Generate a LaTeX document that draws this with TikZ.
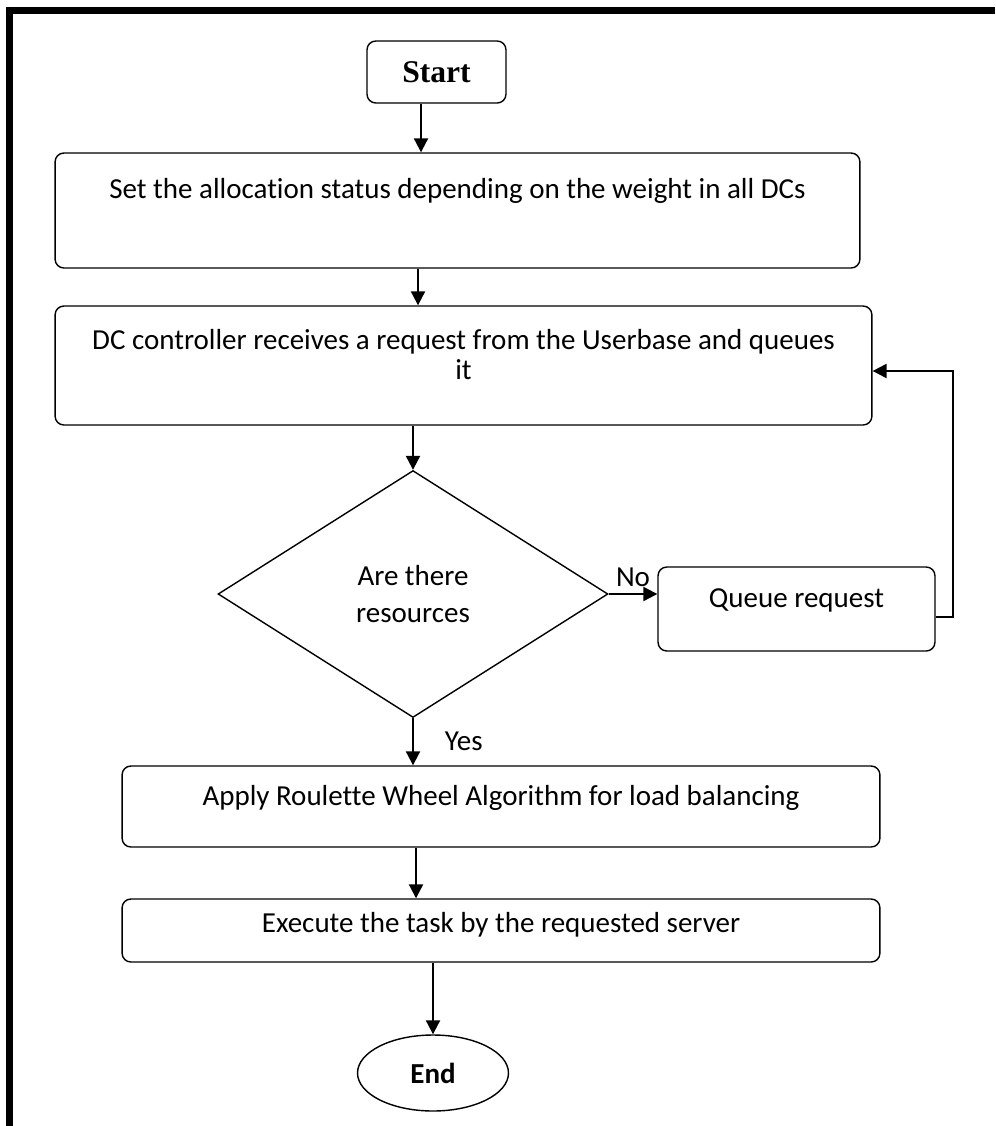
\documentclass[tikz,border=0pt]{standalone}
\usepackage{fontspec}
\setmainfont{Carlito}[Ligatures=NoCommon]
\newfontfamily\startfont{Liberation Serif}
\usetikzlibrary{arrows.meta, positioning, shapes.geometric}

\begin{document}
\begin{tikzpicture}[x=0.02cm, y=-0.02cm,
    font=\fontsize{16.5}{20}\selectfont,
    box/.style={draw, line width=0.8pt, rounded corners=5pt, align=center},
    arr/.style={-{Triangle[length=8pt, width=8pt]}, line width=1.2pt},
    lift/.style={text depth=#1}]
  \useasboundingbox (0,0) rectangle (995,1126);
  % frame
  \draw[line width=4pt] (9.5,1126) -- (9.5,10.5) -- (995,10.5);
  % boxes
  \node[box, minimum width=2.78cm, minimum height=1.24cm, font=\startfont\bfseries\fontsize{18}{20}\selectfont] (start) at (436.5,72) {Start};
  \node[box, minimum width=16.1cm, minimum height=2.3cm, lift=0.9cm] (set) at (457.5,210.5) {Set the allocation status depending on the weight in all DCs};
  \node[box, minimum width=16.34cm, minimum height=2.38cm, lift=0.45cm, font=\fontsize{16.5}{17}\selectfont] (recv) at (463.5,365.5) {DC controller receives a request from the Userbase and queues\\ it};
  \node[draw, diamond, line width=0.8pt, align=center, inner sep=0pt, minimum width=7.8cm, minimum height=4.94cm, font=\fontsize{16.5}{21}\selectfont] (dec) at (413,594) {Are there\\ resources};
  \node[box, minimum width=5.54cm, minimum height=1.68cm, lift=0.45cm] (queue) at (796.5,609) {Queue request};
  \node[box, minimum width=15.16cm, minimum height=1.62cm, lift=0.45cm] (roul) at (501,806.5) {Apply Roulette Wheel Algorithm for load balancing};
  \node[box, minimum width=15.16cm, minimum height=1.26cm, lift=0.33cm] (exec) at (501,930.5) {Execute the task by the requested server};
  \node[draw, ellipse, line width=0.8pt, minimum width=3.02cm, minimum height=1.52cm, font=\bfseries\fontsize{16.5}{20}\selectfont] (end) at (433,1073) {End};
  % arrows
  \draw[arr] ([xshift=-3.1mm]start.south) -- ([xshift=-3.1mm]start.south |- set.north);
  \draw[arr] ([xshift=-7.9mm]set.south) -- ([xshift=-7.9mm]set.south |- recv.north);
  \draw[arr] (recv.south -| dec.north) -- (dec.north);
  \draw[arr] (dec.east) -- (dec.east -| queue.west) node[midway, above] {No};
  \draw[arr] ([yshift=-1.6mm]queue.east) -- ++(0.34cm,0) |- ([yshift=-1.1mm]recv.east);
  \draw[arr] (dec.south) -- (dec.south |- roul.north) node[midway, right=5mm] {Yes};
  \draw[arr] ([xshift=-1.7cm]roul.south) -- ([xshift=-1.7cm]roul.south |- exec.north);
  \draw[arr] (exec.south -| end.north) -- (end.north);
\end{tikzpicture}
\end{document}
